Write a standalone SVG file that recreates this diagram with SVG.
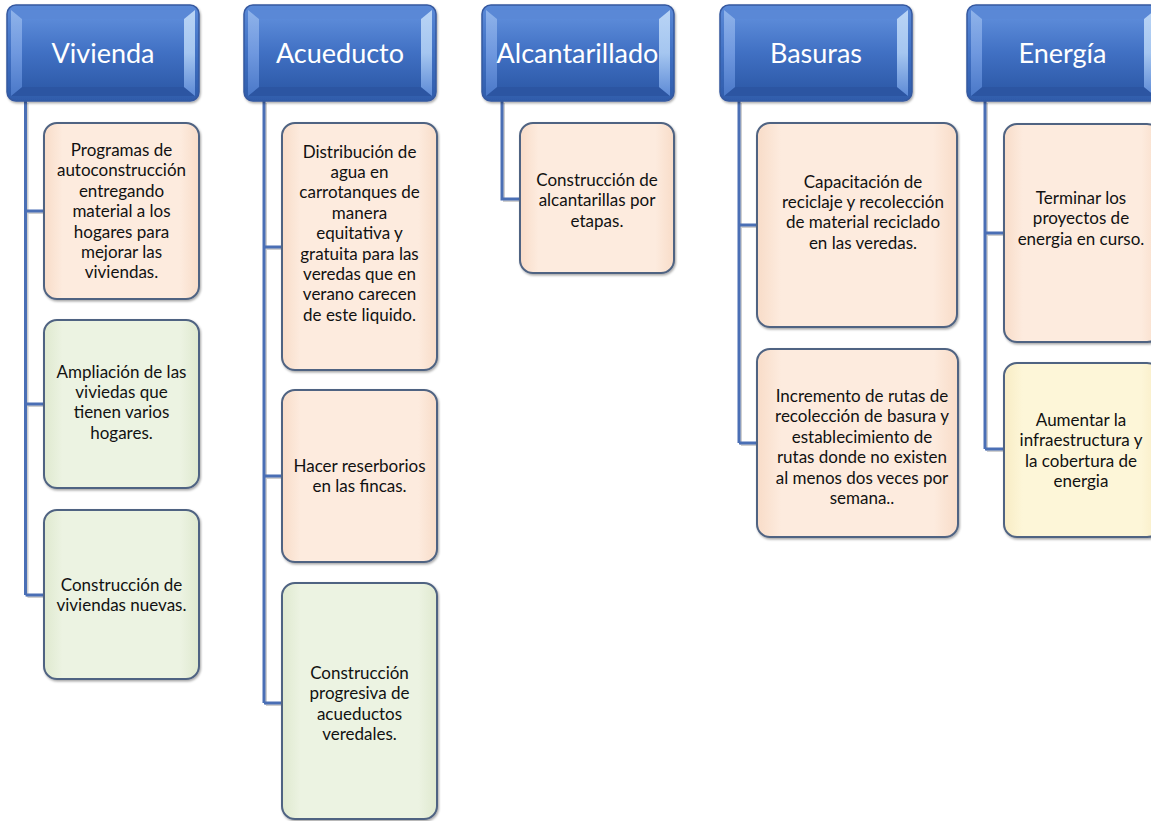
<svg xmlns="http://www.w3.org/2000/svg" width="1151" height="821" viewBox="0 0 1151 821">
<style>
  .hdrTxt { font-family: Lato, "Liberation Sans", sans-serif; font-size: 27px; fill: #ffffff; text-anchor: middle; }
  .boxTxt { font-family: Lato, "Liberation Sans", sans-serif; font-size: 17px; fill: #111111; text-anchor: middle; }
  .box { stroke: #4f6382; stroke-width: 2; filter: url(#sh); }
  .peach { fill: url(#peachG); }
  .green { fill: url(#greenG); }
  .yellow { fill: url(#yellowG); }
  .conn { fill: none; stroke: #4a6fb5; stroke-width: 3; }
  .connSh { fill: none; stroke: #cfcfcf; stroke-width: 2; }
</style>
<defs>
  <filter id="sh" x="-10%" y="-10%" width="120%" height="120%">
    <feDropShadow dx="1" dy="1.5" stdDeviation="1" flood-color="#000" flood-opacity="0.35"/>
  </filter>
  <linearGradient id="hdrG" x1="0" y1="0" x2="0" y2="1">
    <stop offset="0" stop-color="#5b8ad8"/>
    <stop offset="0.5" stop-color="#4070c3"/>
    <stop offset="1" stop-color="#2f5cab"/>
  </linearGradient>
  <linearGradient id="bevL" x1="0" y1="0" x2="0" y2="1">
    <stop offset="0" stop-color="#8fb3ea"/>
    <stop offset="0.5" stop-color="#6f98df"/>
    <stop offset="1" stop-color="#4a78c8"/>
  </linearGradient>
  <linearGradient id="bevR" x1="0" y1="0" x2="0" y2="1">
    <stop offset="0" stop-color="#b9d4f5"/>
    <stop offset="0.5" stop-color="#a5c6f0"/>
    <stop offset="1" stop-color="#5d8ad6"/>
  </linearGradient>
  <linearGradient id="peachG" x1="0" y1="0" x2="1" y2="0">
    <stop offset="0" stop-color="#f8dcc8"/>
    <stop offset="0.12" stop-color="#fdebde"/>
    <stop offset="0.88" stop-color="#fdebde"/>
    <stop offset="1" stop-color="#f8dcc8"/>
  </linearGradient>
  <linearGradient id="greenG" x1="0" y1="0" x2="1" y2="0">
    <stop offset="0" stop-color="#dfe9cf"/>
    <stop offset="0.12" stop-color="#ecf3e2"/>
    <stop offset="0.88" stop-color="#ecf3e2"/>
    <stop offset="1" stop-color="#dfe9cf"/>
  </linearGradient>
  <linearGradient id="yellowG" x1="0" y1="0" x2="1" y2="0">
    <stop offset="0" stop-color="#f8ecc4"/>
    <stop offset="0.12" stop-color="#fdf6d8"/>
    <stop offset="0.88" stop-color="#fdf6d8"/>
    <stop offset="1" stop-color="#f8ecc4"/>
  </linearGradient>
  <g id="hdrShape">
    <rect x="0" y="0" width="192" height="96" rx="9" fill="url(#hdrG)" stroke="#3559a0" stroke-width="1.5" filter="url(#sh)"/>
    <polygon points="4,5 15,14 177,14 188,5" fill="#5a88d6"/>
    <polygon points="4,91 15,82 177,82 188,91" fill="#2c55a2"/>
    <polygon points="4,5 15,14 15,82 4,91" fill="url(#bevL)"/>
    <polygon points="188,5 177,14 177,82 188,91" fill="url(#bevR)"/>
    <rect x="15" y="14" width="162" height="68" fill="url(#hdrG)"/>
  </g>
</defs>
<rect width="1151" height="821" fill="#ffffff"/>

<g id="connectors">
  <g transform="translate(2,2)">
    <path class="connSh" d="M25.5 101 V595 M25.5 211 H44 M25.5 404 H44 M25.5 595 H44"/>
    <path class="connSh" d="M264 101 V703 M264 247 H282 M264 476 H282 M264 703 H282"/>
    <path class="connSh" d="M502 101 V199 H520"/>
    <path class="connSh" d="M739 101 V443 M739 225 H757 M739 443 H757"/>
    <path class="connSh" d="M985 101 V449 M985 233 H1004 M985 449 H1004"/>
  </g>
  <path class="conn" d="M25.5 101 V595 M25.5 211 H44 M25.5 404 H44 M25.5 595 H44"/>
  <path class="conn" d="M264 101 V703 M264 247 H282 M264 476 H282 M264 703 H282"/>
  <path class="conn" d="M502 101 V199 H520"/>
  <path class="conn" d="M739 101 V443 M739 225 H757 M739 443 H757"/>
  <path class="conn" d="M985 101 V449 M985 233 H1004 M985 449 H1004"/>
</g>

<g id="hdr-vivienda">
  <use href="#hdrShape" transform="translate(7,5)"/>
  <text class="hdrTxt" x="103" y="63">Vivienda</text>
</g>
<g id="hdr-acueducto">
  <use href="#hdrShape" transform="translate(244,5)"/>
  <text class="hdrTxt" x="340" y="63">Acueducto</text>
</g>
<g id="hdr-alcantarillado">
  <use href="#hdrShape" transform="translate(482,5)"/>
  <text class="hdrTxt" x="577.5" y="63">Alcantarillado</text>
</g>
<g id="hdr-basuras">
  <use href="#hdrShape" transform="translate(720,5)"/>
  <text class="hdrTxt" x="816" y="63">Basuras</text>
</g>
<g id="hdr-energia">
  <use href="#hdrShape" transform="translate(967,5)"/>
  <text class="hdrTxt" x="1062.5" y="63">Energía</text>
</g>

<g id="viv-1">
  <rect class="box peach" x="44" y="123" width="155" height="176" rx="13"/>
  <text class="boxTxt" y="156"><tspan x="121.5">Programas de</tspan><tspan x="121.5" dy="20.4">autoconstrucción</tspan><tspan x="121.5" dy="20.4">entregando</tspan><tspan x="121.5" dy="20.4">material a los</tspan><tspan x="121.5" dy="20.4">hogares para</tspan><tspan x="121.5" dy="20.4">mejorar las</tspan><tspan x="121.5" dy="20.4">viviendas.</tspan></text>
</g>
<g id="viv-2">
  <rect class="box green" x="44" y="320" width="155" height="168" rx="13"/>
  <text class="boxTxt" y="377.5"><tspan x="121.5">Ampliación de las</tspan><tspan x="121.5" dy="20.4">viviedas que</tspan><tspan x="121.5" dy="20.4">tienen varios</tspan><tspan x="121.5" dy="20.4">hogares.</tspan></text>
</g>
<g id="viv-3">
  <rect class="box green" x="44" y="510" width="155" height="169" rx="13"/>
  <text class="boxTxt" y="591"><tspan x="121.5">Construcción de</tspan><tspan x="121.5" dy="20.4">viviendas nuevas.</tspan></text>
</g>

<g id="acu-1">
  <rect class="box peach" x="282" y="123" width="155" height="247" rx="13"/>
  <text class="boxTxt" y="157.5"><tspan x="359.5">Distribución de</tspan><tspan x="359.5" dy="20.4">agua en</tspan><tspan x="359.5" dy="20.4">carrotanques de</tspan><tspan x="359.5" dy="20.4">manera</tspan><tspan x="359.5" dy="20.4">equitativa y</tspan><tspan x="359.5" dy="20.4">gratuita para las</tspan><tspan x="359.5" dy="20.4">veredas que en</tspan><tspan x="359.5" dy="20.4">verano carecen</tspan><tspan x="359.5" dy="20.4">de este liquido.</tspan></text>
</g>
<g id="acu-2">
  <rect class="box peach" x="282" y="390" width="155" height="172" rx="13"/>
  <text class="boxTxt" y="472"><tspan x="359.5">Hacer reserborios</tspan><tspan x="359.5" dy="20.4">en las fincas.</tspan></text>
</g>
<g id="acu-3">
  <rect class="box green" x="282" y="583" width="155" height="236" rx="13"/>
  <text class="boxTxt" y="679"><tspan x="359.5">Construcción</tspan><tspan x="359.5" dy="20.4">progresiva de</tspan><tspan x="359.5" dy="20.4">acueductos</tspan><tspan x="359.5" dy="20.4">veredales.</tspan></text>
</g>

<g id="alc-1">
  <rect class="box peach" x="520" y="123" width="154" height="150" rx="13"/>
  <text class="boxTxt" y="186"><tspan x="597">Construcción de</tspan><tspan x="597" dy="20.4">alcantarillas por</tspan><tspan x="597" dy="20.4">etapas.</tspan></text>
</g>

<g id="bas-1">
  <rect class="box peach" x="757" y="123" width="200" height="204" rx="13"/>
  <text class="boxTxt" y="187.5"><tspan x="863">Capacitación de</tspan><tspan x="863" dy="20.4">reciclaje y recolección</tspan><tspan x="863" dy="20.4">de material reciclado</tspan><tspan x="863" dy="20.4">en las veredas.</tspan></text>
</g>
<g id="bas-2">
  <rect class="box peach" x="757" y="349" width="201" height="188" rx="13"/>
  <text class="boxTxt" y="402"><tspan x="862">Incremento de rutas de</tspan><tspan x="862" dy="20.4">recolección de basura y</tspan><tspan x="862" dy="20.4">establecimiento de</tspan><tspan x="862" dy="20.4">rutas donde no existen</tspan><tspan x="862" dy="20.4">al menos dos veces por</tspan><tspan x="862" dy="20.4">semana..</tspan></text>
</g>

<g id="ene-1">
  <rect class="box peach" x="1004" y="124" width="156" height="218" rx="13"/>
  <text class="boxTxt" y="204"><tspan x="1081">Terminar los</tspan><tspan x="1081" dy="20.4">proyectos de</tspan><tspan x="1081" dy="20.4">energia en curso.</tspan></text>
</g>
<g id="ene-2">
  <rect class="box yellow" x="1004" y="363" width="156" height="174" rx="13"/>
  <text class="boxTxt" y="426"><tspan x="1081">Aumentar la</tspan><tspan x="1081" dy="20.4">infraestructura y</tspan><tspan x="1081" dy="20.4">la cobertura de</tspan><tspan x="1081" dy="20.4">energia</tspan></text>
</g>
</svg>
